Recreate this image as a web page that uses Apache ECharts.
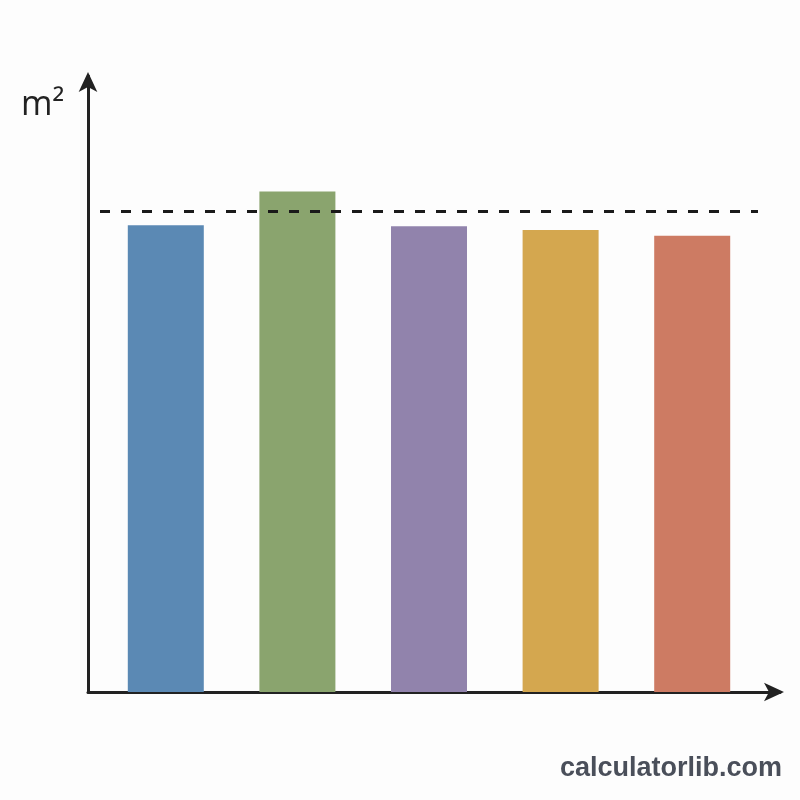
<!DOCTYPE html>
<html>
<head>
<meta charset="utf-8">
<script src="https://cdn.jsdelivr.net/npm/echarts@6/dist/echarts.min.js"></script>
<style>html,body{margin:0;padding:0;background:#fdfdfd;}#c{width:800px;height:800px;}</style>
</head>
<body>
<div id="c"></div>
<script>
const categories = ['A', 'B', 'C', 'D', 'E'];
const values = [97, 104, 96.8, 96, 94.8];
const referenceValue = 100;
const barColors = ['#5b89b4', '#8aa46e', '#9183ac', '#d4a74f', '#cd7b63'];
const unitLabel = 'm²';
const watermark = 'calculatorlib.com';

const chart = echarts.init(document.getElementById('c'), null, {renderer: 'canvas'});
const axisColor = '#222';
chart.setOption({
  backgroundColor: '#fdfdfd',
  animation: false,
  grid: [
    {left: 100, right: 42, top: 76, bottom: 108},
    {left: 88, right: 20, top: 76, bottom: 108}
  ],
  xAxis: [
    {gridIndex: 0, type: 'category', data: categories, show: false},
    {gridIndex: 1, type: 'value', min: 0, max: 1,
     axisLine: {show: true, lineStyle: {color: axisColor, width: 3}, symbol: ['none', 'arrow'], symbolSize: [14, 20], symbolOffset: [0, 4]},
     axisTick: {show: false}, axisLabel: {show: false}, splitLine: {show: false}}
  ],
  yAxis: [
    {gridIndex: 0, type: 'value', min: 0, max: 128, show: false},
    {gridIndex: 1, type: 'value', min: 0, max: 1,
     axisLine: {show: true, lineStyle: {color: axisColor, width: 3}, symbol: ['none', 'arrow'], symbolSize: [14, 20], symbolOffset: [0, 4]},
     axisTick: {show: false}, axisLabel: {show: false}, splitLine: {show: false}}
  ],
  series: [{
    type: 'bar',
    xAxisIndex: 0, yAxisIndex: 0,
    barWidth: 76,
    data: values.map((v, i) => ({value: v, itemStyle: {color: barColors[i]}})),
    markLine: {
      silent: true,
      symbol: ['none', 'none'],
      label: {show: false},
      lineStyle: {type: [10, 11], color: '#1a1a1a', width: 3},
      data: [{yAxis: referenceValue}]
    }
  }],
  graphic: [
    {type: 'text', left: 21, top: 88, style: {text: unitLabel, font: '34px "Open Sans", sans-serif', fill: '#222'}},
    {type: 'text', right: 18, top: 755, style: {text: watermark, font: 'bold 27px "Liberation Sans", Arial, sans-serif', fill: '#4a4f5a'}}
  ]
});
</script>
</body>
</html>
